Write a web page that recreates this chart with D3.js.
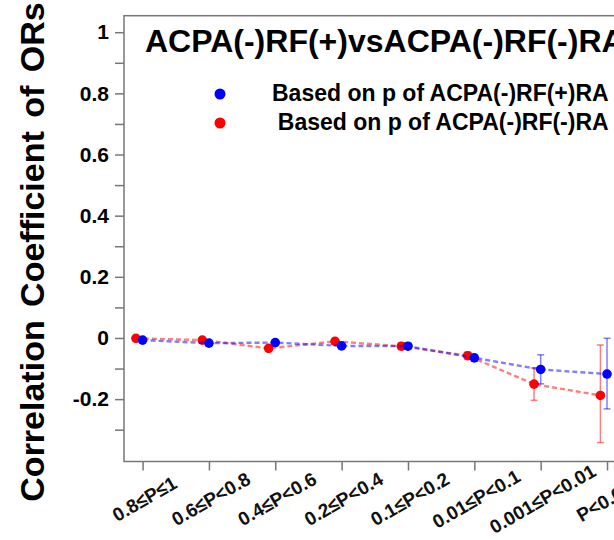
<!DOCTYPE html>
<html>
<head>
<meta charset="utf-8">
<script src="https://cdn.jsdelivr.net/npm/d3@7"></script>
<style>
  body { margin: 0; background: #fff; }
  text { font-family: "Liberation Sans", Arial, sans-serif; font-weight: bold; }
</style>
</head>
<body>
<div id="chart"></div>
<script>
const categories = ["0.8≤P≤1", "0.6≤P<0.8", "0.4≤P<0.6", "0.2≤P<0.4", "0.1≤P<0.2", "0.01≤P<0.1", "0.001≤P<0.01", "P<0.001"];

// based on p of ACPA(-)RF(+)RA
const blueVals = [-0.007, -0.017, -0.015, -0.026, -0.027, -0.065, -0.103, -0.118];
const blueLow  = [-0.011, -0.021, -0.019, -0.030, -0.037, -0.075, -0.150, -0.232];
const blueHigh = [-0.003, -0.013, -0.011, -0.022, -0.017, -0.055, -0.055, -0.001];

// based on p of ACPA(-)RF(-)RA
const redVals = [-0.001, -0.007, -0.034, -0.011, -0.027, -0.058, -0.151, -0.188];
const redLow  = [-0.004, -0.011, -0.039, -0.015, -0.038, -0.070, -0.204, -0.342];
const redHigh = [ 0.002, -0.003, -0.029, -0.007, -0.016, -0.046, -0.098, -0.023];

const yLabels = [-0.2, 0, 0.2, 0.4, 0.6, 0.8, 1];
const yMinor = [-0.3, -0.1, 0.1, 0.3, 0.5, 0.7, 0.9];

const svg = d3.select("#chart")
    .append("svg")
        .attr("width", 614)
        .attr("height", 540);

const plotLeft = 124, plotRight = 625.6, plotTop = 15.7, plotBottom = 461.5;

const x = d3.scaleLinear()
    .domain([-0.28, categories.length - 1 + 0.28])
    .range([plotLeft, plotRight]);

const y = d3.scaleLinear()
    .domain([-0.404, 1.054])
    .range([plotBottom, plotTop]);

// box
svg.append("rect")
    .attr("x", plotLeft).attr("y", plotTop)
    .attr("width", plotRight - plotLeft).attr("height", plotBottom - plotTop)
    .attr("fill", "none")
    .attr("stroke", "#777")
    .attr("stroke-width", 1.5);

// y axis
const yAxis = svg.append("g")
    .attr("transform", `translate(${plotLeft},0)`)
    .call(d3.axisLeft(y).tickValues(yLabels.concat(yMinor)).tickSize(9).tickPadding(6)
        .tickFormat(d => yLabels.includes(d) ? String(d) : ""));
yAxis.select(".domain").remove();
yAxis.selectAll("line").attr("stroke", "#777").attr("stroke-width", 1.5);
yAxis.selectAll("text")
    .attr("font-size", 21)
    .attr("fill", "#000");

// x axis
const xAxis = svg.append("g")
    .attr("transform", `translate(0,${plotBottom})`)
    .call(d3.axisBottom(x).tickValues(d3.range(categories.length)).tickSize(9).tickFormat(""));
xAxis.select(".domain").remove();
xAxis.selectAll("line").attr("stroke", "#777").attr("stroke-width", 1.5);

svg.append("g").selectAll("text")
    .data(categories)
    .join("text")
        .attr("transform", (d, i) => `translate(${x(i) + 2},${499}) rotate(-30)`)
        .attr("text-anchor", "middle")
        .attr("dominant-baseline", "central")
        .attr("font-size", 19)
        .attr("fill", "#111")
        .text(d => d);

// y title
svg.append("text")
    .attr("transform", `translate(44,252) rotate(-90)`)
    .attr("text-anchor", "middle")
    .attr("font-size", 34)
    .attr("word-spacing", 4)
    .text("Correlation Coefficient of ORs");

// title
svg.append("text")
    .attr("x", 145).attr("y", 52)
    .attr("font-size", 32)
    .text("ACPA(-)RF(+)vsACPA(-)RF(-)RA");

function drawSeries(vals, lo, hi, offset, color) {
    const g = svg.append("g");
    const line = d3.line()
        .x((d, i) => x(i + offset))
        .y(d => y(d));
    g.append("path")
        .datum(vals)
        .attr("d", line)
        .attr("fill", "none")
        .attr("stroke", color)
        .attr("stroke-opacity", 0.5)
        .attr("stroke-width", 2.4)
        .attr("stroke-dasharray", "5,3");
    const eb = g.append("g")
        .attr("stroke", color)
        .attr("stroke-opacity", 0.5)
        .attr("stroke-width", 1.5);
    vals.forEach((v, i) => {
        const cx = x(i + offset);
        eb.append("line").attr("x1", cx).attr("x2", cx).attr("y1", y(lo[i])).attr("y2", y(hi[i]));
        eb.append("line").attr("x1", cx - 3.5).attr("x2", cx + 3.5).attr("y1", y(lo[i])).attr("y2", y(lo[i]));
        eb.append("line").attr("x1", cx - 3.5).attr("x2", cx + 3.5).attr("y1", y(hi[i])).attr("y2", y(hi[i]));
    });
    g.selectAll("circle")
        .data(vals)
        .join("circle")
            .attr("cx", (d, i) => x(i + offset))
            .attr("cy", d => y(d))
            .attr("r", 4.8)
            .attr("fill", color);
}

drawSeries(redVals, redLow, redHigh, -0.1, "#ff0000");
drawSeries(blueVals, blueLow, blueHigh, 0, "#0000ff");

// legend
const legendNames = ["Based on p of ACPA(-)RF(+)RA", "Based on p of ACPA(-)RF(-)RA"];
const legendColors = ["#0000ff", "#ff0000"];
const legendTexts = svg.append("g").selectAll("text")
    .data(legendNames)
    .join("text")
        .attr("y", (d, i) => 101 + i * 29)
        .attr("font-size", 23)
        .text(d => d);
const w0 = legendTexts.node().getComputedTextLength();
legendTexts.attr("x", 272 + w0).attr("text-anchor", "end");
svg.append("g").selectAll("circle")
    .data(legendColors)
    .join("circle")
        .attr("cx", 220)
        .attr("cy", (d, i) => 94 + i * 29)
        .attr("r", 5.5)
        .attr("fill", d => d);
</script>
</body>
</html>
